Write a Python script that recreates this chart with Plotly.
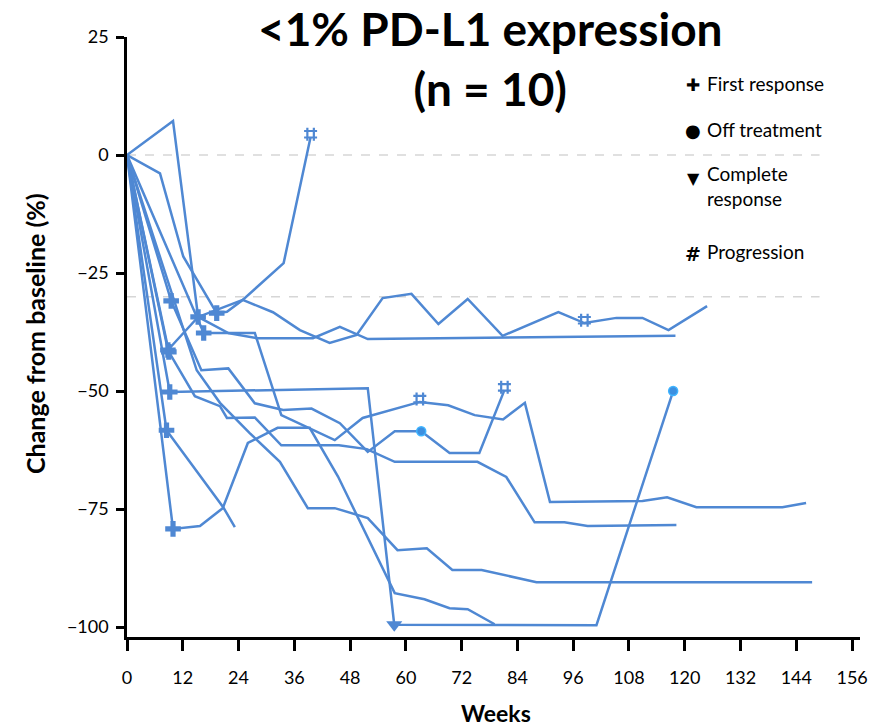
import plotly.graph_objects as go

# ---------------- data (weeks, % change from baseline) ----------------
weeks_p1 = [0, 9.9, 15.3, 21.8, 27.5, 33.2, 44.7, 50.7, 63.0, 69.1, 74.8, 80.9, 85.6, 91.0, 110.9, 116.2, 122.5, 141.0, 146.1]
chg_p1 = [0, 7.2, -34.3, -37.7, -37.7, -55.1, -60.4, -55.7, -52.3, -53.0, -55.1, -56.0, -52.5, -73.5, -73.3, -72.5, -74.6, -74.6, -73.7]

weeks_p2 = [0, 7.1, 12.1, 19.3, 21.5, 24.9, 31.4, 37.2, 43.6, 49.4, 55.0, 61.2, 67.0, 73.3, 80.8, 92.8, 98.4, 105.3, 110.9, 116.5, 124.8]
chg_p2 = [0, -3.9, -21.5, -33.5, -33.2, -30.7, -33.3, -37.1, -39.8, -38.1, -30.3, -29.4, -35.8, -30.5, -38.3, -33.3, -35.6, -34.5, -34.5, -37.1, -32.0]

weeks_p3 = [0, 8.8, 15.3, 24.9, 33.7, 39.5]
chg_p3 = [0, -41.3, -34.3, -30.7, -22.9, 3.8]

weeks_p4 = [0, 16.5, 21.7, 27.9, 40.0, 45.8, 51.8, 118.0]
chg_p4 = [0, -37.7, -37.7, -38.8, -38.8, -36.4, -39.0, -38.3]

weeks_p5 = [0, 9.5, 16.0, 21.8, 27.5, 33.6, 39.7, 45.8, 51.8, 57.6, 63.3, 69.4, 75.8, 81.2]
chg_p5 = [0, -30.9, -45.6, -45.2, -52.6, -54.0, -53.7, -56.8, -62.9, -58.5, -58.5, -63.1, -63.1, -49.8]

weeks_p6 = [0, 9.0, 14.6, 20.0, 21.5, 27.5, 33.2, 45.6, 51.6, 57.6, 75.4, 81.6, 87.7, 94.1, 99.1, 118.2]
chg_p6 = [0, -41.7, -51.1, -53.2, -55.7, -55.6, -61.5, -61.5, -62.3, -65.0, -65.0, -68.2, -77.8, -77.8, -78.6, -78.4]

weeks_p7 = [0, 9.2, 51.8, 57.5, 101.0, 117.5]
chg_p7 = [0, -50.2, -49.4, -99.5, -99.6, -50.0]

weeks_p8 = [0, 8.5, 20.7, 23.2]
chg_p8 = [0, -58.3, -74.6, -78.8]

weeks_p9 = [0, 9.9, 15.7, 20.6, 26.0, 32.4, 39.3, 45.4, 57.6, 64.0, 69.4, 73.3, 79.1]
chg_p9 = [0, -79.2, -78.6, -74.8, -61.0, -57.8, -57.8, -68.1, -92.8, -94.1, -96.0, -96.2, -99.4]

weeks_p10 = [0, 15.0, 20.0, 26.4, 32.9, 38.9, 44.7, 51.8, 58.2, 64.5, 70.0, 76.3, 88.1, 147.4]
chg_p10 = [0, -45.6, -52.5, -58.9, -65.0, -74.8, -74.8, -76.9, -83.7, -83.3, -87.9, -87.9, -90.5, -90.5]

patients = [
    (weeks_p1, chg_p1), (weeks_p2, chg_p2), (weeks_p3, chg_p3), (weeks_p4, chg_p4),
    (weeks_p5, chg_p5), (weeks_p6, chg_p6), (weeks_p7, chg_p7), (weeks_p8, chg_p8),
    (weeks_p9, chg_p9), (weeks_p10, chg_p10),
]

# events: (patient index, point index)
first_response = [(0, 2), (1, 3), (2, 1), (3, 1), (4, 1), (5, 1), (6, 1), (7, 1), (8, 1)]
off_treatment = [(4, 10), (6, 5)]
complete_response = [(6, 3)]
progression = [(2, 5), (0, 8), (1, 16), (4, 13)]

x_ticks = [0, 12, 24, 36, 48, 60, 72, 84, 96, 108, 120, 132, 144, 156]
y_ticks = [25, 0, -25, -50, -75, -100]
ref_lines = [0, -30]

title_lines = ["<1% PD-L1 expression", "(n = 10)"]
legend_labels = ["First response", "Off treatment", "Complete<br>response", "Progression"]

# ---------------- styling ----------------
LINE = "#4f88d3"
FONT = "Lato"

fig = go.Figure()

for w, c in patients:
    fig.add_trace(go.Scatter(x=w, y=c, mode="lines",
                             line=dict(color=LINE, width=2.5),
                             showlegend=False, hoverinfo="skip"))

def pts(events):
    xs = [patients[p][0][i] for p, i in events]
    ys = [patients[p][1][i] for p, i in events]
    return xs, ys

x, y = pts(first_response)
fig.add_trace(go.Scatter(x=x, y=y, mode="markers", showlegend=False,
                         marker=dict(symbol="cross", size=13, color=LINE)))
x, y = pts(progression)
fig.add_trace(go.Scatter(x=x, y=[v + 0.6 for v in y], mode="markers", showlegend=False,
                         marker=dict(symbol="hash-open", size=13, color=LINE,
                                     line=dict(color=LINE, width=2.2))))
x, y = pts(off_treatment)
fig.add_trace(go.Scatter(x=x, y=y, mode="markers", showlegend=False,
                         marker=dict(symbol="circle", size=9, color="#3c8fe0",
                                     line=dict(color="#3fb4ff", width=1.5))))
x, y = pts(complete_response)
fig.add_trace(go.Scatter(x=x, y=y, mode="markers", showlegend=False,
                         marker=dict(symbol="triangle-down", size=14, color=LINE)))

for r in ref_lines:
    fig.add_shape(type="line", xref="x", yref="y", x0=0, x1=149, y0=r, y1=r,
                  line=dict(color="#d6d6d6", width=1.5, dash="dash"), layer="below")

# plot-area geometry in pixels
L, R, T, B = 127, 860, 37, 637
W, H = 887, 727
def px(xp):
    return (xp - L) / (R - L)
def py(yp):
    return (B - yp) / (B - T)

ann = []
ann.append(dict(text="<b>%s</b>" % "<br>".join(t.replace("<", "&lt;") for t in title_lines),
                x=px(490), y=py(59), xref="paper", yref="paper", showarrow=False,
                xanchor="center", yanchor="middle", align="center",
                font=dict(family=FONT, size=46, color="black")))

leg_sym = ["<b>✚</b>", "●", "▼", "<b>#</b>"]
leg_sym_y = [85, 131, 178, 254]
leg_txt_y = [83, 129, 186, 251]
leg_sym_size = [17, 18, 16, 19]
for s, sy, ty, lab, ss in zip(leg_sym, leg_sym_y, leg_txt_y, legend_labels, leg_sym_size):
    ann.append(dict(text=s, x=px(693), y=py(sy), xref="paper", yref="paper", showarrow=False,
                    xanchor="center", yanchor="middle",
                    font=dict(family="DejaVu Sans", size=ss, color="black")))
    ann.append(dict(text=lab, x=px(705), y=py(ty), xref="paper", yref="paper", showarrow=False,
                    xanchor="left", yanchor="middle", align="left",
                    font=dict(family=FONT, size=19, color="black")))

ann.append(dict(text="<b>Weeks</b>", x=px(496), y=py(713), xref="paper", yref="paper",
                showarrow=False, xanchor="center", yanchor="middle",
                font=dict(family=FONT, size=23, color="black")))
ann.append(dict(text="<b>Change from baseline (%)</b>", x=px(35), y=py(333), xref="paper",
                yref="paper", showarrow=False, textangle=-90, xanchor="center", yanchor="middle",
                font=dict(family=FONT, size=25, color="black")))

fig.update_layout(
    width=W, height=H,
    margin=dict(l=L, r=W - R, t=T, b=H - B, pad=0),
    paper_bgcolor="white", plot_bgcolor="white",
    annotations=ann,
    font=dict(family=FONT, size=18, color="black"),
)
fig.update_xaxes(range=[0, 157.7], tickvals=x_ticks, ticktext=[str(t) for t in x_ticks],
                 showgrid=False, zeroline=False, showline=True, linecolor="black", linewidth=2.5,
                 ticks="outside", ticklen=11, tickwidth=2.5, tickcolor="black",
                 ticklabelstandoff=12,
                 tickfont=dict(family=FONT, size=18))
fig.update_yaxes(range=[-102.1, 25], tickvals=y_ticks,
                 ticktext=[("\u2212" + str(abs(t))) if t < 0 else str(t) for t in y_ticks],
                 showgrid=False, zeroline=False, showline=True, linecolor="black", linewidth=2.5,
                 ticks="outside", ticklen=8, tickwidth=2.5, tickcolor="black",
                 ticklabelstandoff=4,
                 tickfont=dict(family=FONT, size=18))

fig.write_html("out.html")
